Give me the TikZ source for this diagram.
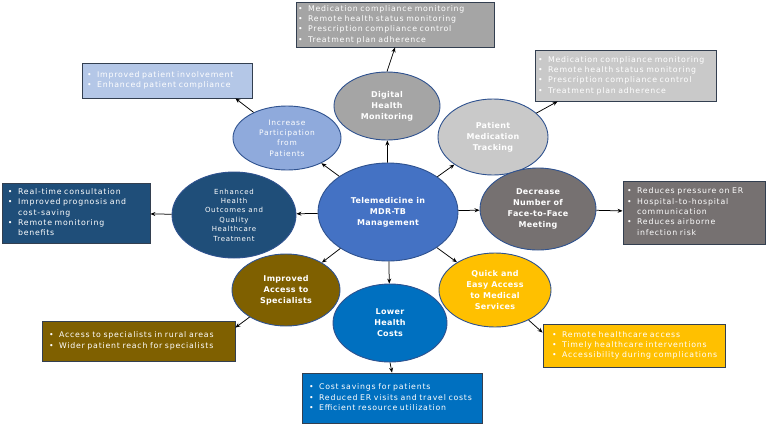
\documentclass[tikz,border=0pt]{standalone}
\usepackage{fontspec}
\setmainfont{DejaVu Sans}
\newfontfamily\boxfont[LetterSpace=10]{DejaVu Sans}
\newfontfamily\circfont[LetterSpace=10]{DejaVu Sans}
\newfontfamily\circbold[LetterSpace=4]{DejaVu Sans}
\usetikzlibrary{shapes.geometric,arrows.meta,calc}
\definecolor{ccenter}{HTML}{4472C4}
\definecolor{cdig}{HTML}{A5A5A5}
\definecolor{cinc}{HTML}{8FAADC}
\definecolor{cinclt}{HTML}{B4C7E7}
\definecolor{cpmt}{HTML}{C9C9C9}
\definecolor{cenh}{HTML}{1F4E79}
\definecolor{cdec}{HTML}{767171}
\definecolor{cimp}{HTML}{7F6000}
\definecolor{clow}{HTML}{0070C0}
\definecolor{cquick}{HTML}{FFC000}
\definecolor{cedge}{HTML}{2F528F}
\definecolor{bedge}{HTML}{333F50}
\newcommand\itemsbox[1]{\begin{tabular}{@{}l@{\hspace{5.5pt}}l@{}}#1\end{tabular}}
\begin{document}
\begin{tikzpicture}[x=1pt,y=-1pt,
  circ/.style={ellipse,draw=cedge,line width=0.9pt,inner sep=0pt,align=center,text=white},
  bcirc/.style={circ,font=\circbold\bfseries\fontsize{8}{11}\selectfont},
  lcirc/.style={circ,font=\circfont\fontsize{7.5}{10.3}\selectfont},
  bx/.style={rectangle,draw=bedge,line width=0.8pt,inner ysep=0pt,text=white,align=left,font=\boxfont\fontsize{7.8}{10.3}\selectfont},
  arr/.style={draw=black,line width=0.75pt,-{Stealth[length=5pt,width=4pt]}},
]
\useasboundingbox (0,0) rectangle (767,426);
\fill[white] (0,0) rectangle (767,426);

% circles
\node[bcirc,fill=ccenter,minimum width=140pt,minimum height=98pt] (c) at (388,212) {Telemedicine in\\MDR-TB\\Management};
\node[bcirc,fill=cdig,minimum width=106pt,minimum height=68pt] (dig) at (387,106) {Digital\\Health\\Monitoring};
\node[lcirc,fill=cinc,minimum width=108pt,minimum height=64pt] (inc) at (287,138) {Increase\\Participation\\from\\Patients};
\node[bcirc,fill=cpmt,minimum width=110pt,minimum height=76pt] (pmt) at (493,137) {Patient\\Medication\\Tracking};
\node[circ,fill=cenh,minimum width=124pt,minimum height=86pt,font=\circfont\fontsize{7}{9.4}\selectfont] (enh) at (234,215) {Enhanced\\Health\\Outcomes and\\Quality\\Healthcare\\Treatment};
\node[bcirc,fill=cdec,minimum width=116pt,minimum height=82pt] (dec) at (538,209) {Decrease\\Number of\\Face-to-Face\\Meeting};
\node[bcirc,fill=cimp,minimum width=108pt,minimum height=72pt] (imp) at (286,290) {Improved\\Access to\\Specialists};
\node[bcirc,fill=clow,minimum width=114pt,minimum height=78pt] (low) at (390,323) {Lower\\Health\\Costs};
\node[bcirc,fill=cquick,minimum width=112pt,minimum height=74pt] (quick) at (495,290) {Quick and\\Easy Access\\to Medical\\Services};

% boxes
\node[bx,fill=cdig,minimum width=198pt,minimum height=45pt,text width=194pt,inner xsep=2pt] (top) at (395,24.5)
 {\itemsbox{\textbullet & Medication compliance monitoring\\ \textbullet & Remote health status monitoring\\ \textbullet & Prescription compliance control\\ \textbullet & Treatment plan adherence}};
\node[bx,fill=cpmt,minimum width=181pt,minimum height=51pt,text width=175pt,inner xsep=3pt] (tr) at (625.5,75.5)
 {\itemsbox{\textbullet & Medication compliance monitoring\\ \textbullet & Remote health status monitoring\\ \textbullet & Prescription compliance control\\ \textbullet & Treatment plan adherence}};
\node[bx,fill=cinclt,minimum width=170pt,minimum height=35pt,text width=160pt,inner xsep=5pt] (tl) at (167,80.5)
 {\itemsbox{\textbullet & Improved patient involvement\\ \textbullet & Enhanced patient compliance}};
\node[bx,fill=cenh,minimum width=148pt,minimum height=60pt,text width=136pt,inner xsep=6pt] (lb) at (76,213)
 {\itemsbox{\textbullet & Real-time consultation\\ \textbullet & Improved prognosis and\\ & cost-saving\\ \textbullet & Remote monitoring\\ & benefits}};
\node[bx,fill=cdec,minimum width=142pt,minimum height=63pt,text width=134pt,inner xsep=4pt] (rb) at (694,212.5)
 {\itemsbox{\textbullet & Reduces pressure on ER\\ \textbullet & Hospital-to-hospital\\ & communication\\ \textbullet & Reduces airborne\\ & infection risk}};
\node[bx,fill=cimp,minimum width=193pt,minimum height=40pt,text width=179pt,inner xsep=7pt] (bl) at (138.5,341)
 {\itemsbox{\textbullet & Access to specialists in rural areas\\ \textbullet & Wider patient reach for specialists}};
\node[bx,fill=cquick,minimum width=182pt,minimum height=43pt,text width=164pt,inner xsep=9pt] (br) at (634,345.5)
 {\itemsbox{\textbullet & Remote healthcare access\\ \textbullet & Timely healthcare interventions\\ \textbullet & Accessibility during complications}};
\node[bx,fill=clow,minimum width=180pt,minimum height=50pt,text width=166pt,inner xsep=7pt] (bot) at (392,398)
 {\itemsbox{\textbullet & Cost savings for patients\\ \textbullet & Reduced ER visits and travel costs\\ \textbullet & Efficient resource utilization}};

% anchor points on boxes
\coordinate (tlA) at ([xshift=-17pt]tl.south east);
\coordinate (trA) at ([xshift=23pt]tr.south west);
\coordinate (blA) at ([yshift=-7pt]bl.north east);
\coordinate (brA) at ([yshift=-9pt]br.north west);

% center arrows
\draw[arr] (c) -- (dig);
\draw[arr] (c) -- (inc);
\draw[arr] (c) -- (pmt);
\draw[arr] (c) -- (enh);
\draw[arr] (c) -- (dec);
\draw[arr] (c) -- (imp);
\draw[arr] (c) -- (low);
\draw[arr] (c) -- (quick);

% box arrows
\draw[arr] (dig.north) -- (top.south);
\draw[arr] (inc) -- (tlA);
\draw[arr] (pmt) -- (trA);
\draw[arr] (enh) -- (lb);
\draw[arr] (dec) -- (rb);
\draw[arr] (imp) -- (blA);
\draw[arr] (quick) -- (brA);
\draw[arr] (low.south) -- (bot.north);
\end{tikzpicture}
\end{document}
